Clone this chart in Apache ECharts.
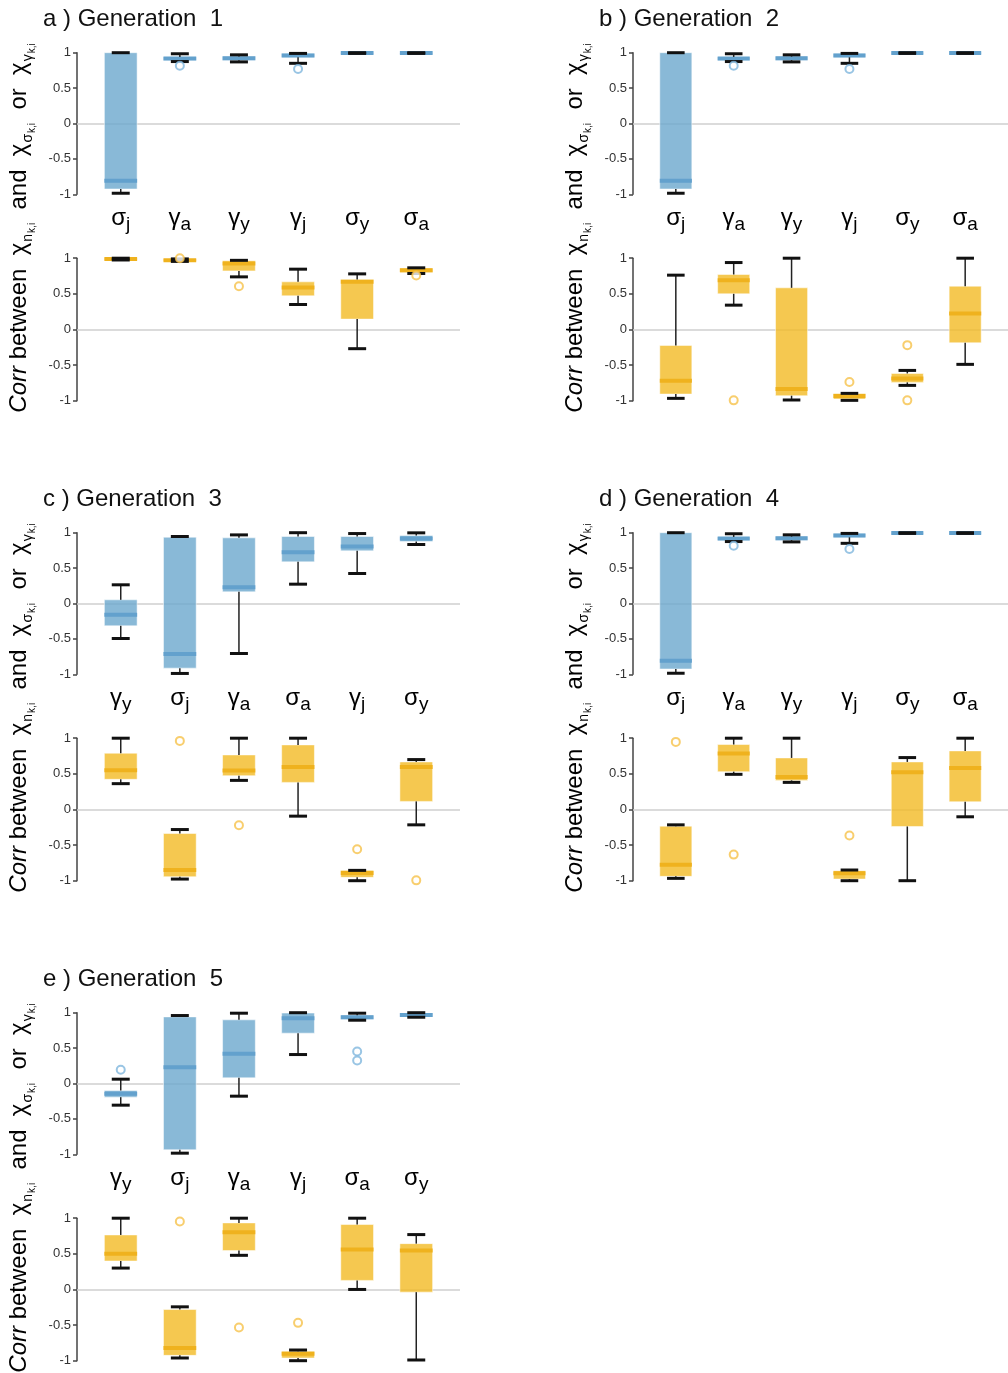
<!DOCTYPE html>
<html>
<head>
<meta charset="utf-8">
<script src="https://cdn.jsdelivr.net/npm/echarts@6.0.0/dist/echarts.min.js"></script>
<style>
  html, body { margin: 0; padding: 0; background: #ffffff; }
  #chart { width: 1008px; height: 1373px; }
</style>
</head>
<body>
<div id="chart"></div>
<script>
// Box statistics per category: [lower whisker, Q1, median, Q3, upper whisker]
// Outliers: [category index, value]

// Generation 1
const gen1Cats = ['σj', 'γa', 'γy', 'γj', 'σy', 'σa'];
const gen1Trait = [
  [-0.985, -0.925, -0.81, 1.0, 1.0],
  [0.875, 0.895, 0.918, 0.94, 0.985],
  [0.87, 0.895, 0.92, 0.945, 0.97],
  [0.85, 0.935, 0.96, 0.99, 0.99],
  [0.99, 0.99, 0.997, 1.0, 1.0],
  [0.99, 0.99, 0.997, 1.0, 1.0]
];
const gen1TraitOut = [[1, 0.815], [3, 0.77]];
const gen1Abund = [
  [0.975, 0.975, 0.99, 1.0, 1.0],
  [0.955, 0.96, 0.97, 0.985, 0.99],
  [0.738, 0.822, 0.925, 0.963, 0.97],
  [0.35, 0.472, 0.589, 0.668, 0.846],
  [-0.27, 0.145, 0.668, 0.70, 0.78],
  [0.785, 0.80, 0.832, 0.86, 0.865]
];
const gen1AbundOut = [[1, 1.0], [2, 0.607], [5, 0.757]];

// Generation 2
const gen2Cats = ['σj', 'γa', 'γy', 'γj', 'σy', 'σa'];
const gen2Trait = [
  [-0.985, -0.925, -0.81, 1.0, 1.0],
  [0.875, 0.895, 0.918, 0.94, 0.985],
  [0.87, 0.895, 0.92, 0.945, 0.97],
  [0.85, 0.935, 0.96, 0.99, 0.99],
  [0.99, 0.99, 0.997, 1.0, 1.0],
  [0.99, 0.99, 0.997, 1.0, 1.0]
];
const gen2TraitOut = [[1, 0.815], [3, 0.77]];
const gen2Abund = [
  [-0.967, -0.907, -0.72, -0.224, 0.762],
  [0.341, 0.50, 0.692, 0.771, 0.939],
  [-0.99, -0.93, -0.836, 0.584, 1.0],
  [-0.995, -0.977, -0.935, -0.90, -0.897],
  [-0.785, -0.743, -0.687, -0.617, -0.575],
  [-0.49, -0.187, 0.224, 0.607, 1.0]
];
const gen2AbundOut = [[1, -0.995], [3, -0.738], [4, -0.22], [4, -0.995]];

// Generation 3
const gen3Cats = ['γy', 'σj', 'γa', 'σa', 'γj', 'σy'];
const gen3Trait = [
  [-0.494, -0.315, -0.16, 0.052, 0.264],
  [-0.988, -0.913, -0.715, 0.936, 0.946],
  [-0.706, 0.165, 0.231, 0.927, 0.969],
  [0.273, 0.588, 0.725, 0.946, 1.0],
  [0.424, 0.744, 0.805, 0.946, 0.988],
  [0.833, 0.875, 0.918, 0.96, 0.998]
];
const gen3TraitOut = [];
const gen3Abund = [
  [0.362, 0.423, 0.549, 0.789, 1.0],
  [-0.977, -0.944, -0.85, -0.338, -0.282],
  [0.408, 0.474, 0.545, 0.765, 1.0],
  [-0.094, 0.38, 0.596, 0.906, 1.0],
  [-1.0, -0.953, -0.892, -0.855, -0.855],
  [-0.216, 0.113, 0.596, 0.667, 0.70]
];
const gen3AbundOut = [[1, 0.962], [2, -0.221], [4, -0.559], [5, -0.995]];

// Generation 4
const gen4Cats = ['σj', 'γa', 'γy', 'γj', 'σy', 'σa'];
const gen4Trait = [
  [-0.985, -0.925, -0.81, 1.0, 1.0],
  [0.875, 0.895, 0.918, 0.94, 0.985],
  [0.87, 0.895, 0.92, 0.945, 0.97],
  [0.85, 0.935, 0.96, 0.99, 0.99],
  [0.99, 0.99, 0.997, 1.0, 1.0],
  [0.99, 0.99, 0.997, 1.0, 1.0]
];
const gen4TraitOut = [[1, 0.815], [3, 0.77]];
const gen4Abund = [
  [-0.967, -0.939, -0.775, -0.235, -0.216],
  [0.493, 0.53, 0.784, 0.911, 1.0],
  [0.38, 0.408, 0.455, 0.723, 1.0],
  [-1.0, -0.977, -0.897, -0.859, -0.85],
  [-1.0, -0.239, 0.521, 0.667, 0.728],
  [-0.103, 0.108, 0.582, 0.822, 1.0]
];
const gen4AbundOut = [[0, 0.948], [1, -0.634], [3, -0.366]];

// Generation 5
const gen5Cats = ['γy', 'σj', 'γa', 'γj', 'σa', 'σy'];
const gen5Trait = [
  [-0.306, -0.193, -0.146, -0.099, 0.061],
  [-0.984, -0.936, 0.231, 0.941, 0.96],
  [-0.179, 0.08, 0.419, 0.899, 0.993],
  [0.409, 0.711, 0.922, 0.995, 1.0],
  [0.894, 0.908, 0.936, 0.965, 0.993],
  [0.936, 0.94, 0.969, 0.995, 1.0]
];
const gen5TraitOut = [[0, 0.193], [4, 0.452], [4, 0.325]];
const gen5Abund = [
  [0.30, 0.399, 0.502, 0.765, 1.0],
  [-0.962, -0.925, -0.822, -0.282, -0.244],
  [0.479, 0.545, 0.803, 0.934, 1.0],
  [-1.0, -0.962, -0.901, -0.869, -0.85],
  [0.0, 0.127, 0.559, 0.911, 1.0],
  [-0.99, -0.038, 0.545, 0.643, 0.77]
];
const gen5AbundOut = [[1, 0.953], [2, -0.535], [3, -0.469]];

const yTicks = [-1, -0.5, 0, 0.5, 1];

const panels = [
  { tag: 'a', gen: 1, col: 0, row: 0, cats: gen1Cats, trait: gen1Trait, traitOut: gen1TraitOut, abund: gen1Abund, abundOut: gen1AbundOut },
  { tag: 'b', gen: 2, col: 1, row: 0, cats: gen2Cats, trait: gen2Trait, traitOut: gen2TraitOut, abund: gen2Abund, abundOut: gen2AbundOut },
  { tag: 'c', gen: 3, col: 0, row: 1, cats: gen3Cats, trait: gen3Trait, traitOut: gen3TraitOut, abund: gen3Abund, abundOut: gen3AbundOut },
  { tag: 'd', gen: 4, col: 1, row: 1, cats: gen4Cats, trait: gen4Trait, traitOut: gen4TraitOut, abund: gen4Abund, abundOut: gen4AbundOut },
  { tag: 'e', gen: 5, col: 0, row: 2, cats: gen5Cats, trait: gen5Trait, traitOut: gen5TraitOut, abund: gen5Abund, abundOut: gen5AbundOut }
];

const FONT = "'Liberation Sans', Arial, Helvetica, sans-serif";
const BLUE = { fill: 'rgba(108,168,205,0.8)', median: '#63A1CD', point: '#80B7DD' };
const ORANGE = { fill: 'rgba(243,186,36,0.8)', median: '#EFB21E', point: '#F6C24A' };

const COL_DX = 556, ROW_DY = 480;
const PLOT_LEFT = 77, PLOT_WIDTH = 383;
const TOP_Y = 52.7, TOP_H = 141.6;
const BOT_Y = 258.2, BOT_H = 142.5;

const labelRich = {
  g: { fontSize: 24, fontFamily: FONT, color: '#111', verticalAlign: 'top', padding: [0, 0, 0, 0] },
  s: { fontSize: 19, fontFamily: FONT, color: '#111', verticalAlign: 'top', padding: [8, 0, 0, 0] }
};

function boxSeries(axisIdx, stats, pal, cats) {
  return {
    type: 'custom',
    xAxisIndex: axisIdx,
    yAxisIndex: axisIdx,
    z: 2,
    clip: false,
    silent: true,
    data: stats.map((s, i) => [i + 1].concat(s)),
    renderItem: function (params, api) {
      const x = api.value(0);
      const lo = api.value(1), q1 = api.value(2), md = api.value(3), q3 = api.value(4), hi = api.value(5);
      const unit = api.size([1, 0])[0];
      const boxHalf = 0.277 * unit, capHalf = 0.152 * unit;
      const cx = api.coord([x, 0])[0];
      const yLo = api.coord([x, lo])[1], yQ1 = api.coord([x, q1])[1];
      const yMd = api.coord([x, md])[1], yQ3 = api.coord([x, q3])[1];
      const yHi = api.coord([x, hi])[1];
      const children = [
        { type: 'rect', shape: { x: cx - boxHalf, y: yQ3, width: 2 * boxHalf, height: Math.max(yQ1 - yQ3, 1) },
          style: { fill: pal.fill, stroke: 'rgba(255,255,255,0.5)', lineWidth: 1 } },
        { type: 'line', shape: { x1: cx - boxHalf, y1: yMd, x2: cx + boxHalf, y2: yMd },
          style: { stroke: pal.median, lineWidth: 4 } }
      ];
      if (yHi < yQ3 - 0.5) {
        children.push({ type: 'line', shape: { x1: cx, y1: yQ3, x2: cx, y2: yHi }, style: { stroke: '#222', lineWidth: 1.5 } });
      }
      if (yLo > yQ1 + 0.5) {
        children.push({ type: 'line', shape: { x1: cx, y1: yQ1, x2: cx, y2: yLo }, style: { stroke: '#222', lineWidth: 1.5 } });
      }
      children.push({ type: 'line', shape: { x1: cx - capHalf, y1: yHi, x2: cx + capHalf, y2: yHi }, style: { stroke: '#111', lineWidth: 3 } });
      children.push({ type: 'line', shape: { x1: cx - capHalf, y1: yLo, x2: cx + capHalf, y2: yLo }, style: { stroke: '#111', lineWidth: 3 } });
      if (cats) {
        const name = cats[params.dataIndex];
        const yLab = api.coord([x, -1])[1] + 26;
        children.push({
          type: 'text', x: cx, y: yLab,
          style: {
            text: '{g|' + name.charAt(0) + '}{s|' + name.slice(1) + '}',
            rich: labelRich,
            align: 'center', verticalAlign: 'middle',
            textAlign: 'center', textVerticalAlign: 'middle'
          }
        });
      }
      return { type: 'group', children: children };
    },
    markLine: {
      silent: true,
      z: 1,
      symbol: ['none', 'none'],
      label: { show: false },
      lineStyle: { color: '#cfcfcf', width: 1.5, type: 'solid' },
      emphasis: { disabled: true },
      data: [{ yAxis: 0 }]
    }
  };
}

function outlierSeries(axisIdx, pts, pal) {
  return {
    type: 'scatter',
    xAxisIndex: axisIdx,
    yAxisIndex: axisIdx,
    z: 3,
    silent: true,
    clip: false,
    symbol: 'emptyCircle',
    symbolSize: 8,
    itemStyle: { color: pal.point, borderWidth: 1.5 },
    data: pts.map(p => [p[0] + 1, p[1]])
  };
}

const grid = [], xAxis = [], yAxis = [], series = [], graphic = [];

panels.forEach(p => {
  const dx = p.col * COL_DX, dy = p.row * ROW_DY;
  const parts = [
    { stats: p.trait, out: p.traitOut, pal: BLUE, top: TOP_Y, h: TOP_H, labels: p.cats },
    { stats: p.abund, out: p.abundOut, pal: ORANGE, top: BOT_Y, h: BOT_H, labels: null }
  ];
  parts.forEach(part => {
    const idx = grid.length;
    grid.push({ left: PLOT_LEFT + dx, top: part.top + dy, width: PLOT_WIDTH, height: part.h, containLabel: false });
    xAxis.push({ gridIndex: idx, type: 'value', min: 0.26, max: 6.74, show: false });
    yAxis.push({
      gridIndex: idx, type: 'value', min: yTicks[0], max: yTicks[yTicks.length - 1], interval: 0.5,
      axisLine: { show: true, lineStyle: { color: '#444', width: 1.5 } },
      axisTick: { show: true, inside: false, length: 4, lineStyle: { color: '#444', width: 1.5 } },
      axisLabel: { fontSize: 13, color: '#333', fontFamily: FONT, margin: 6 },
      splitLine: { show: false }
    });
    series.push(boxSeries(idx, part.stats, part.pal, part.labels));
    if (part.out.length) series.push(outlierSeries(idx, part.out, part.pal));
  });

  // panel heading
  graphic.push({
    type: 'text', x: 43 + dx, y: 19 + dy, silent: true,
    style: {
      text: p.tag + ' ) Generation  ' + p.gen,
      fontSize: 24, fontFamily: FONT, fill: '#111',
      align: 'left', verticalAlign: 'middle', textAlign: 'left', textVerticalAlign: 'middle'
    }
  });

  // shared vertical axis title, reading upwards
  graphic.push({
    type: 'text', x: 22.5 + dx, y: 228 + dy, rotation: Math.PI / 2, silent: true,
    style: {
      text: '{it|Corr}{m| between  χ}{s1|n}{s2|k,i}{m|  and  χ}{s1|σ}{s2|k,i}{m|  or  χ}{s1|γ}{s2|k,i}',
      rich: {
        it: { fontSize: 24, fontStyle: 'italic', fontFamily: FONT, color: '#111', verticalAlign: 'top', padding: [0, 0, 0, 0] },
        m: { fontSize: 24, fontFamily: FONT, color: '#111', verticalAlign: 'top', padding: [0, 0, 0, 0] },
        s1: { fontSize: 14, fontFamily: FONT, color: '#111', verticalAlign: 'top', padding: [14, 1, 0, 1] },
        s2: { fontSize: 10, fontFamily: FONT, color: '#111', verticalAlign: 'top', padding: [20, 0, 0, 0] }
      },
      align: 'center', verticalAlign: 'middle', textAlign: 'center', textVerticalAlign: 'middle'
    }
  });
});

const chart = echarts.init(document.getElementById('chart'), null, { renderer: 'canvas' });
chart.setOption({
  animation: false,
  backgroundColor: '#ffffff',
  grid: grid,
  xAxis: xAxis,
  yAxis: yAxis,
  series: series,
  graphic: graphic
});
</script>
</body>
</html>
